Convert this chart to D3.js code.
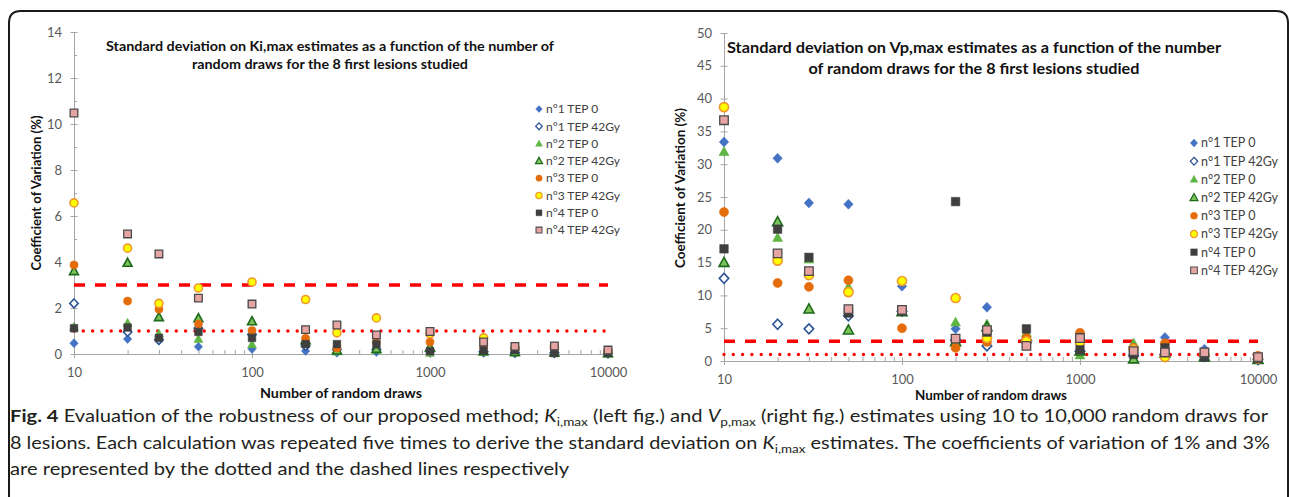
<!DOCTYPE html>
<html>
<head>
<meta charset="utf-8">
<script src="https://cdn.jsdelivr.net/npm/d3@7"></script>
<style>
  body { margin: 0; background: #fff; }
  svg text { font-family: Lato, "Open Sans", sans-serif; }
</style>
</head>
<body>
<div id="container"></div>
<script>
// Number of random draws (x categories, log axis)
const draws = [10, 20, 30, 50, 100, 200, 300, 500, 1000, 2000, 3000, 5000, 10000];
const seriesNames = ["n°1 TEP 0", "n°1 TEP 42Gy", "n°2 TEP 0", "n°2 TEP 42Gy",
                     "n°3 TEP 0", "n°3 TEP 42Gy", "n°4 TEP 0", "n°4 TEP 42Gy"];

// Ki,max coefficient of variation (%)
const kiN1Tep0  = [0.47, 0.65, 0.57, 0.32, 0.22, 0.13, 0.05, 0.08, 0.05, 0.05, 0.03, 0.03, 0.02];
const kiN1Tep42 = [2.2, 0.96, 0.62, 1.12, 0.85, 0.35, 0.2, 0.2, 0.12, 0.1, 0.06, 0.05, 0.03];
const kiN2Tep0  = [1.18, 1.35, 0.88, 0.65, 0.42, 0.55, 0.1, 0.18, 0.05, 0.08, 0.05, 0.04, 0.02];
const kiN2Tep42 = [3.6, 3.96, 1.6, 1.55, 1.42, 0.6, 0.15, 0.22, 0.28, 0.12, 0.08, 0.06, 0.03];
const kiN3Tep0  = [3.87, 2.3, 1.95, 1.3, 1.02, 0.68, 0.26, 0.5, 0.52, 0.28, 0.2, 0.25, 0.1];
const kiN3Tep42 = [6.57, 4.6, 2.2, 2.87, 3.13, 2.37, 0.92, 1.57, 0.88, 0.7, 0.25, 0.3, 0.12];
const kiN4Tep0  = [1.12, 1.15, 0.7, 0.96, 0.7, 0.43, 0.43, 0.42, 0.12, 0.15, 0.17, 0.04, 0.05];
const kiN4Tep42 = [10.48, 5.22, 4.35, 2.43, 2.17, 1.06, 1.26, 0.83, 0.98, 0.52, 0.33, 0.35, 0.17];

// Vp,max coefficient of variation (%)
const vpN1Tep0  = [33.4, 30.9, 24.1, 23.9, 11.4, 4.9, 8.2, 3.0, 2.5, 1.2, 3.6, 1.8, 0.3];
const vpN1Tep42 = [12.6, 5.6, 4.9, 6.9, 7.6, 3.2, 2.3, 2.8, 1.5, 0.8, 1.0, 0.7, 0.2];
const vpN2Tep0  = [31.9, 18.8, 15.5, 11.3, 7.7, 5.9, 5.6, 4.3, 0.9, 2.7, 1.5, 0.8, 0.3];
const vpN2Tep42 = [15.0, 21.2, 7.9, 4.7, 7.5, 2.9, 5.2, 3.7, 1.5, 0.3, 1.2, 0.6, 0.2];
const vpN3Tep0  = [22.7, 11.9, 11.3, 12.3, 5.0, 2.0, 2.9, 3.5, 4.3, 2.0, 2.7, 1.0, 0.8];
const vpN3Tep42 = [38.7, 15.3, 13.1, 10.5, 12.2, 9.6, 3.5, 3.0, 2.9, 1.8, 0.6, 0.9, 0.4];
const vpN4Tep0  = [17.1, 20.1, 15.8, 7.3, 7.6, 24.3, 4.4, 4.9, 1.7, 1.0, 2.0, 0.6, 0.4];
const vpN4Tep42 = [36.7, 16.4, 13.7, 7.9, 7.8, 3.4, 4.7, 2.3, 3.5, 1.5, 1.3, 1.3, 0.6];

// Reference coefficients of variation
const dottedLevel = 1;
const dashedLevel = 3;

const kiTicks = [0, 2, 4, 6, 8, 10, 12, 14];
const vpTicks = [0, 5, 10, 15, 20, 25, 30, 35, 40, 45, 50];

// Marker look for each series (same order as seriesNames)
const markers = [
    { shape: "diamond",  fill: "#4472C4", stroke: "#4472C4", sw: 0.5 },
    { shape: "diamond",  fill: "#ffffff", stroke: "#2F5597", sw: 1.6 },
    { shape: "triangle", fill: "#5FB541", stroke: "#5FB541", sw: 0.5 },
    { shape: "triangle", fill: "#7CC35A", stroke: "#1D6A1D", sw: 1.6 },
    { shape: "circle",   fill: "#E46C0A", stroke: "#E46C0A", sw: 0.5 },
    { shape: "circle",   fill: "#FFFF00", stroke: "#F0992E", sw: 1.6 },
    { shape: "square",   fill: "#3F3F3F", stroke: "#3F3F3F", sw: 0.5 },
    { shape: "square",   fill: "#E6A5A3", stroke: "#4A4A4A", sw: 1.3 }
];

function markerPath(shape, s) {
    const h = s / 2;
    if (shape === "diamond") return `M0,${-h * 1.05}L${h},0L0,${h * 1.05}L${-h},0Z`;
    if (shape === "triangle") return `M0,${-h * 1.1}L${h * 1.05},${h * 0.8}L${-h * 1.05},${h * 0.8}Z`;
    if (shape === "square") return `M${-h * 0.9},${-h * 0.9}h${h * 1.8}v${h * 1.8}h${-h * 1.8}Z`;
    return d3.arc()({ innerRadius: 0, outerRadius: h * 0.95, startAngle: 0, endAngle: 2 * Math.PI });
}

const svg = d3.select("#container")
    .append("svg")
    .attr("width", 1290)
    .attr("height", 497);

// Rounded frame around the figure
svg.append("path")
    .attr("d", "M9,497V23Q9,11 21,11H1276Q1288,11 1288,23V497")
    .attr("fill", "none")
    .attr("stroke", "#1a1a1a")
    .attr("stroke-width", 2);

function drawPanel(p) {
    const x = d3.scaleLog().domain([10, 10000]).range([p.left, p.right]);
    const y = d3.scaleLinear().domain([0, p.yMax]).range([p.bottom, p.top]);
    const g = svg.append("g");
    const axisColor = "#A6A6A6";

    // y axis
    const ya = g.append("g")
        .attr("transform", `translate(${p.left},0)`)
        .call(d3.axisLeft(y).tickValues(p.yTicks).tickSize(4).tickSizeOuter(0).tickPadding(p.yPad));
    ya.selectAll(".tick line").attr("x1", 3.5).attr("x2", -3.5);
    if (p.yMinor) {
        const ym = g.append("g")
            .attr("transform", `translate(${p.left},0)`)
            .call(d3.axisLeft(y).tickValues(p.yMinor).tickSize(3).tickFormat(""));
        ym.select(".domain").remove();
        ym.selectAll(".tick line").attr("x1", 3).attr("x2", 0);
    }

    // x axis
    const xa = g.append("g")
        .attr("transform", `translate(0,${p.bottom})`)
        .call(d3.axisBottom(x).tickValues([10, 100, 1000, 10000]).tickSize(4).tickSizeOuter(0)
            .tickPadding(p.xPad).tickFormat(d3.format("d")));
    xa.selectAll(".tick line").attr("y1", -3.5).attr("y2", 4);
    const minor = x.ticks().filter(v => [10, 100, 1000, 10000].indexOf(v) < 0);
    const xm = g.append("g")
        .attr("transform", `translate(0,${p.bottom})`)
        .call(d3.axisBottom(x).tickValues(minor).tickSize(4).tickFormat(""));
    xm.select(".domain").remove();
    xm.selectAll(".tick line").attr("y1", -4).attr("y2", 0);

    g.selectAll(".domain, .tick line").attr("stroke", axisColor);
    g.selectAll(".tick text")
        .attr("fill", "#595959")
        .style("font-size", "13px")
        .style("font-family", "Lato, sans-serif");

    // reference lines (1 % dotted, 3 % dashed)
    const refLine = d3.line().x(d => x(d)).y(() => 0);
    g.append("path")
        .datum([10, 10000])
        .attr("d", refLine)
        .attr("transform", `translate(0,${y(dashedLevel)})`)
        .attr("fill", "none")
        .attr("stroke", "#FF0000")
        .attr("stroke-width", 3.6)
        .attr("stroke-dasharray", "11 10");
    g.append("path")
        .datum([10, 10000])
        .attr("d", refLine)
        .attr("transform", `translate(0,${y(dottedLevel)})`)
        .attr("fill", "none")
        .attr("stroke", "#FF0000")
        .attr("stroke-width", 3.4)
        .attr("stroke-linecap", "round")
        .attr("stroke-dasharray", "0 9.3");

    // points
    p.series.forEach((vals, i) => {
        const m = markers[i];
        g.append("g")
            .selectAll("path")
            .data(vals.map((v, j) => ({ n: draws[j], v: v })))
            .enter()
            .append("path")
            .attr("d", markerPath(m.shape, p.mSize))
            .attr("transform", d => `translate(${x(d.n)},${y(d.v)})`)
            .attr("fill", m.fill)
            .attr("stroke", m.stroke)
            .attr("stroke-width", m.sw);
    });

    // title
    p.title.forEach((t, i) => {
        g.append("text")
            .attr("x", p.titleX)
            .attr("y", p.titleY[i])
            .attr("text-anchor", "middle")
            .attr("textLength", p.titleLen[i])
            .attr("lengthAdjust", "spacingAndGlyphs")
            .style("font-size", p.titleSize + "px")
            .style("font-weight", "bold")
            .attr("fill", "#111")
            .text(t);
    });

    // axis titles
    g.append("text")
        .attr("x", p.xTitle[0])
        .attr("y", p.xTitle[1])
        .attr("text-anchor", "middle")
        .attr("textLength", p.xTitle[2])
        .attr("lengthAdjust", "spacingAndGlyphs")
        .style("font-size", "13.5px")
        .style("font-weight", "bold")
        .attr("fill", "#111")
        .text("Number of random draws");
    g.append("text")
        .attr("transform", `translate(${p.yTitle[0]},${p.yTitle[1]}) rotate(-90)`)
        .attr("text-anchor", "middle")
        .attr("dy", "0.35em")
        .attr("textLength", p.yTitle[2])
        .attr("lengthAdjust", "spacingAndGlyphs")
        .style("font-size", "13.5px")
        .style("font-weight", "bold")
        .attr("fill", "#111")
        .text("Coefficient of Variation (%)");

    // legend
    const lg = g.append("g").attr("transform", `translate(${p.legend[0]},${p.legend[1]})`);
    seriesNames.forEach((name, i) => {
        const m = markers[i];
        const row = lg.append("g").attr("transform", `translate(0,${i * p.legend[2]})`);
        row.append("path")
            .attr("d", markerPath(m.shape, p.mSize * 0.78))
            .attr("fill", m.fill)
            .attr("stroke", m.stroke)
            .attr("stroke-width", m.sw * 0.8);
        row.append("text")
            .attr("x", 7)
            .attr("dy", "0.35em")
            .style("font-size", p.legendSize + "px")
            .attr("fill", "#404040")
            .text(name);
    });
}

drawPanel({
    left: 74, right: 608, top: 32, bottom: 354, yMax: 14,
    yTicks: kiTicks, yMinor: [1, 3, 5, 7, 9, 11, 13], yPad: 8, xPad: 10,
    series: [kiN1Tep0, kiN1Tep42, kiN2Tep0, kiN2Tep42, kiN3Tep0, kiN3Tep42, kiN4Tep0, kiN4Tep42],
    mSize: 8.5,
    title: ["Standard deviation on Ki,max estimates as a function of the number of",
            "random draws for the 8 first lesions studied"],
    titleX: 330, titleY: [51, 69], titleLen: [448, 276], titleSize: 13,
    xTitle: [341, 398, 162], yTitle: [36, 193, 155],
    legend: [539, 109, 17.3], legendSize: 12
});

drawPanel({
    left: 724, right: 1258, top: 33, bottom: 361, yMax: 50,
    yTicks: vpTicks, yMinor: null, yPad: 8, xPad: 10,
    series: [vpN1Tep0, vpN1Tep42, vpN2Tep0, vpN2Tep42, vpN3Tep0, vpN3Tep42, vpN4Tep0, vpN4Tep42],
    mSize: 9.5,
    title: ["Standard deviation on Vp,max estimates as a function of the number",
            "of random draws for the 8 first lesions studied"],
    titleX: 974, titleY: [53, 74], titleLen: [494, 331], titleSize: 15,
    xTitle: [991, 400, 152], yTitle: [680, 188, 160],
    legend: [1194, 143, 18.2], legendSize: 12.5
});

// Caption (condensed look: text squeezed to the measured line widths)
const cap = svg.append("g")
    .style("font-family", "'Open Sans', sans-serif")
    .attr("fill", "#231F20");
const capLines = [
    [["Fig. 4", "b"], [" Evaluation of the robustness of our proposed method; "], ["K", "i"], ["i,max", "s"],
     [" (left fig.) and "], ["V", "i"], ["p,max", "s"],
     [" (right fig.) estimates using 10 to 10,000 random draws for"]],
    [["8 lesions. Each calculation was repeated five times to derive the standard deviation on "],
     ["K", "i"], ["i,max", "s"], [" estimates. The coefficients of variation of 1% and 3%"]],
    [["are represented by the dotted and the dashed lines respectively"]]
];
const capY = [422, 449, 475];
const capNodes = capLines.map((parts, i) => {
    const t = cap.append("text").attr("x", 10).attr("y", capY[i]).style("font-size", "17px");
    let sub = false;
    parts.forEach(([s, k]) => {
        const ts = t.append("tspan").text(s);
        if (k === "b") ts.style("font-weight", "bold");
        if (k === "i") ts.style("font-style", "italic");
        if (k === "s") {
            ts.style("font-size", "11.5px").attr("dy", 4);
            sub = true;
        } else if (sub) {
            ts.attr("dy", -4);
            sub = false;
        }
    });
    return t;
});
const squeeze = 1258 / capNodes[0].node().getComputedTextLength();
const capWidths = [1258, 1260, capNodes[2].node().getComputedTextLength() * squeeze];
capNodes.forEach((t, i) => {
    t.attr("textLength", capWidths[i]).attr("lengthAdjust", "spacingAndGlyphs");
});
</script>
</body>
</html>
